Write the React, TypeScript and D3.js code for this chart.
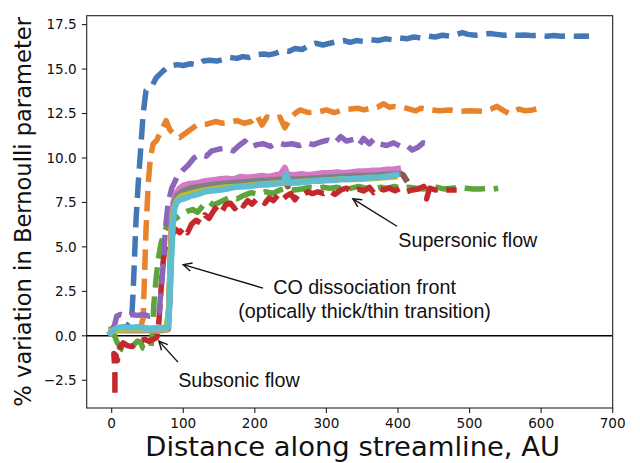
import React from "react";
import * as d3 from "d3";

type P = [number, number];

// ---- data (x: distance along streamline in AU, y: % variation in Bernoulli parameter)
const blueSeries: P[] = [[0,0.2],[5,0.35],[12,0.45],[20,0.5],[25,0.7],[28,1.0],[30,2.5],[32,4.5],[34,6.5],[37,8.5],[40,10.2],[44,12.5],[48,13.8],[53,14.0],[57,14.1],[62,14.5],[67,14.7],[72,14.9],[78,15.1],[85,15.2],[92,15.25],[100,15.2],[110,15.3],[120,15.25],[128,15.45],[137,15.5],[147,15.45],[157,15.55],[165,15.65],[175,15.6],[183,15.7],[192,15.65],[203,15.8],[212,15.85],[220,15.8],[230,15.9],[240,16.05],[248,16.0],[256,16.15],[266,16.1],[277,16.35],[285,16.45],[295,16.35],[305,16.45],[315,16.55],[325,16.6],[333,16.5],[342,16.6],[352,16.55],[362,16.65],[372,16.6],[382,16.7],[392,16.65],[402,16.75],[412,16.7],[422,16.8],[432,16.75],[442,16.85],[452,16.8],[462,16.9],[472,16.85],[482,16.95],[490,17.05],[498,16.95],[508,16.9],[518,16.95],[528,17.0],[538,16.95],[548,16.9],[558,16.95],[568,16.9],[578,16.92],[588,16.88],[598,16.9],[608,16.85],[618,16.88],[628,16.85],[638,16.87],[648,16.85],[658,16.86],[667,16.85]];

const orangeSeries: P[] = [[0,0.3],[15,0.35],[30,0.35],[40,0.4],[44,1.0],[46,3.5],[48,6.0],[51,8.5],[54,10.0],[58,10.8],[63,11.0],[70,11.6],[76,12.1],[81,11.6],[88,11.3],[95,11.15],[105,11.45],[119,11.85],[133,11.9],[145,12.05],[155,11.95],[165,12.0],[175,12.1],[185,11.95],[195,12.05],[203,12.4],[210,11.85],[217,12.3],[226,12.2],[235,12.3],[242,11.7],[249,12.2],[256,12.5],[263,12.7],[275,12.55],[290,12.6],[300,12.7],[311,12.55],[322,12.7],[334,12.75],[344,12.8],[352,12.7],[362,12.8],[371,12.85],[380,13.05],[388,12.85],[396,12.9],[407,12.85],[416,12.75],[425,12.65],[432,12.8],[440,12.75],[447,12.7],[458,12.65],[472,12.7],[488,12.62],[500,12.65],[519,12.62],[530,12.75],[538,12.9],[546,12.7],[555,12.5],[569,12.75],[578,12.65],[588,12.7],[598,12.8]];

const greenSeries: P[] = [[0,0.1],[4,0.0],[8,-0.4],[14,-0.75],[20,-0.85],[26,-0.75],[30,-0.55],[36,-0.3],[40,-0.35],[44,-0.7],[50,-0.8],[55,-0.6],[57,0.3],[59,1.8],[62,3.2],[65,4.3],[69,5.2],[74,5.9],[79,6.3],[84,6.5],[90,6.6],[97,6.85],[105,7.0],[113,7.1],[120,6.95],[128,7.35],[136,7.55],[142,7.35],[150,7.5],[158,7.65],[166,7.8],[175,7.7],[185,7.9],[195,8.05],[205,7.95],[215,8.1],[225,8.0],[235,8.2],[245,8.3],[255,8.2],[265,8.25],[275,8.35],[285,8.3],[295,8.35],[305,8.3],[315,8.35],[325,8.25],[335,8.3],[345,8.4],[355,8.3],[365,8.25],[375,8.35],[385,8.3],[395,8.4],[405,8.3],[415,8.35],[425,8.3],[435,8.25],[445,8.3],[455,8.35],[465,8.25],[475,8.3],[485,8.35],[495,8.3],[505,8.25],[515,8.25],[525,8.3],[533,8.25],[540,8.3]];

const redSeries: P[] = [[4.5,-3.2],[4.5,-2.6],[4.5,-2.1],[4,-1.6],[3,-1.0],[6,-1.1],[8,-1.4],[9,-1.0],[12,-0.6],[16,-0.4],[22,-0.55],[28,-0.6],[34,-0.45],[40,-0.3],[46,-0.2],[52,-0.3],[58,-0.2],[63,-0.1],[66,0.8],[68,2.0],[70,3.2],[72,4.2],[75,5.0],[79,5.3],[84,5.6],[89,6.0],[95,5.8],[101,6.1],[106,5.8],[112,6.3],[118,6.5],[124,6.35],[130,6.8],[136,6.6],[142,7.0],[148,7.3],[154,7.0],[160,7.4],[166,7.45],[172,7.15],[178,7.5],[184,7.3],[190,7.6],[196,7.4],[202,7.65],[208,7.7],[214,7.45],[220,7.75],[226,7.6],[232,7.9],[238,7.65],[244,7.85],[250,8.0],[256,7.65],[262,8.0],[268,7.95],[274,8.1],[280,8.0],[288,8.1],[296,8.0],[304,8.15],[312,7.95],[320,8.2],[328,8.3],[336,8.1],[344,8.25],[352,8.15],[360,8.35],[366,8.05],[372,8.3],[380,8.2],[388,8.3],[396,8.15],[404,8.3],[412,8.1],[420,8.2],[428,8.25],[436,8.4],[440,7.7],[444,8.3],[452,8.2],[460,8.25],[470,8.2],[482,8.2]];

const purpleSeries: P[] = [[0,0.3],[4,0.6],[7,1.1],[12,1.2],[20,1.1],[28,1.2],[36,1.15],[44,1.2],[52,1.1],[60,1.15],[66,1.3],[69,2.5],[72,4.0],[75,6.0],[79,7.5],[84,8.3],[91,8.9],[99,9.3],[107,9.6],[115,10.0],[124,10.2],[132,10.1],[140,10.4],[150,10.5],[160,10.55],[170,10.4],[178,10.7],[186,10.95],[194,10.6],[203,10.75],[212,10.8],[222,10.65],[232,10.85],[242,10.75],[252,10.8],[262,10.7],[272,10.85],[282,10.75],[292,10.9],[302,11.0],[312,10.85],[320,11.2],[328,10.95],[338,11.05],[346,10.75],[352,11.1],[360,10.8],[366,11.05],[374,10.8],[384,10.7],[394,10.85],[404,10.65],[412,10.7],[420,10.45],[428,10.6],[435,10.85],[441,10.8]];

const brownSeries: P[] = [[0,0.35],[15,0.4],[30,0.4],[50,0.35],[70,0.4],[78,0.4],[80,1.5],[82,4.0],[84,6.3],[87,7.4],[91,7.9],[96,8.1],[105,8.25],[120,8.4],[140,8.55],[160,8.6],[180,8.7],[200,8.75],[220,8.75],[240,8.85],[246,8.4],[250,8.85],[270,8.9],[290,8.95],[310,8.95],[330,9.0],[350,9.05],[370,9.05],[390,9.1],[402,9.15],[407,9.05],[411,8.8]];

const pinkSeries: P[] = [[0,0.25],[10,0.3],[30,0.3],[50,0.3],[70,0.3],[78,0.35],[80,1.5],[82,4.0],[84,6.5],[86,7.5],[90,8.0],[95,8.3],[100,8.45],[110,8.55],[120,8.6],[130,8.7],[140,8.75],[150,8.8],[160,8.85],[170,8.8],[180,8.95],[190,8.9],[200,8.95],[210,9.0],[220,8.95],[230,9.05],[236,9.1],[242,9.45],[246,9.05],[255,9.05],[265,9.1],[275,9.05],[285,9.1],[295,9.15],[305,9.15],[315,9.2],[325,9.15],[335,9.2],[345,9.25],[355,9.25],[365,9.3],[375,9.3],[385,9.35],[393,9.35],[400,9.4]];

const graySeries: P[] = [[0,0.3],[15,0.35],[35,0.35],[55,0.35],[72,0.35],[79,0.4],[81,2.0],[83,4.5],[85,6.5],[88,7.5],[92,7.9],[98,8.1],[110,8.3],[125,8.4],[140,8.5],[155,8.55],[170,8.6],[185,8.65],[200,8.7],[220,8.75],[240,8.8],[260,8.8],[280,8.85],[300,8.9],[320,8.95],[340,9.0],[360,9.0],[380,9.05],[400,9.1]];

const oliveSeries: P[] = [[0,0.3],[20,0.35],[40,0.35],[60,0.35],[76,0.35],[80,1.5],[82,4.0],[84,6.0],[87,7.2],[91,7.6],[97,7.85],[110,8.0],[125,8.15],[140,8.25],[160,8.35],[180,8.4],[200,8.5],[220,8.55],[240,8.6],[260,8.65],[280,8.7],[300,8.75],[320,8.8],[340,8.8],[360,8.85],[380,8.9],[395,8.95]];

const cyanSeries: P[] = [[-2,0.15],[3,0.35],[8,0.45],[15,0.5],[25,0.45],[35,0.5],[45,0.45],[55,0.4],[65,0.45],[75,0.45],[79,0.5],[80,1.2],[82,3.0],[84,5.0],[86,6.5],[88,7.2],[91,7.5],[95,7.65],[100,7.7],[110,7.85],[120,7.95],[130,8.1],[140,8.15],[150,8.2],[160,8.25],[170,8.35],[180,8.4],[190,8.4],[200,8.45],[210,8.5],[220,8.5],[230,8.55],[240,8.6],[244,9.1],[248,8.6],[260,8.6],[270,8.65],[280,8.7],[290,8.7],[300,8.75],[310,8.75],[320,8.8],[330,8.8],[340,8.85],[350,8.85],[360,8.9],[370,8.9],[380,8.95],[390,9.0],[398,9.05]];

const seriesNames = ["blue", "orange", "green", "red", "purple", "brown", "pink", "gray", "olive", "cyan"];
const seriesData: P[][] = [blueSeries, orangeSeries, greenSeries, redSeries, purpleSeries, brownSeries, pinkSeries, graySeries, oliveSeries, cyanSeries];
const seriesColors = ["#4377b6", "#e8832b", "#5ea43d", "#c3292c", "#8b66bb", "#8a5a4f", "#d27ac6", "#808080", "#bcbd2e", "#5fbdd0"];
const seriesDashed = [true, true, true, true, true, false, false, false, false, false];

const xTicks = [0, 100, 200, 300, 400, 500, 600, 700];
const yTicks = [-2.5, 0, 2.5, 5, 7.5, 10, 12.5, 15, 17.5];

const xLabel = "Distance along streamline, AU";
const yLabel = "% variation in Bernoulli parameter";

// annotations: text lines, text position (data), arrow tail (data), arrow head (data)
const annotationTexts = [["Supersonic flow"], ["CO dissociation front", "(optically thick/thin transition)"], ["Subsonic flow"]];
const annotationTextX: number[] = [400.5, 353.3, 92.9];
const annotationTextY: number[] = [5.0, 2.36, -2.90];
const annotationTail: P[] = [[398.6, 6.16], [211.4, 2.68], [92.6, -1.48]];
const annotationHead: P[] = [[337, 7.7], [100, 4.0], [66, -0.3]];
const annotationAnchor = ["start", "middle", "start"];

const W = 640, H = 463;
const left = 86.7, right = 612.7, top = 15.7, bottom = 408;

export default function App() {
  const x = d3.scaleLinear().domain([-34.9, 700]).range([left, right]);
  const y = d3.scaleLinear().domain([-4.06, 18.0]).range([bottom, top]);
  const line = d3.line<P>().x(d => x(d[0])).y(d => y(d[1]));
  const tickFont = "'DejaVu Sans', sans-serif";
  const annFont = "'Liberation Sans', Arial, Helvetica, sans-serif";

  const arrowHead = (tail: P, head: P) => {
    const hx = x(head[0]), hy = y(head[1]);
    const tx = x(tail[0]), ty = y(tail[1]);
    const ang = Math.atan2(hy - ty, hx - tx);
    const len = 8.5, half = 4.2;
    const bx = hx - len * Math.cos(ang), by = hy - len * Math.sin(ang);
    const px = -Math.sin(ang) * half, py = Math.cos(ang) * half;
    return `M${bx + px},${by + py}L${hx},${hy}L${bx - px},${by - py}`;
  };

  return (
    <svg width={W} height={H} style={{ position: "absolute", left: 0, top: 0, background: "#fff" }}>
      <defs>
        <clipPath id="plotclip">
          <rect x={left} y={top} width={right - left} height={bottom - top} />
        </clipPath>
      </defs>
      <rect x={0} y={0} width={W} height={H} fill="#fff" />
      <g clipPath="url(#plotclip)">
        <line x1={left} x2={right} y1={y(0)} y2={y(0)} stroke="#000" strokeWidth={1.5} />
        {seriesData.map((s, i) => (
          <path
            key={seriesNames[i]}
            d={line(s) || ""}
            fill="none"
            stroke={seriesColors[i]}
            strokeWidth={seriesDashed[i] ? 5.5 : 6}
            strokeDasharray={seriesDashed[i] ? "20.5 8.8" : undefined}
            strokeLinejoin="round"
            strokeLinecap={seriesDashed[i] ? "butt" : "square"}
          />
        ))}
      </g>
      <rect x={left} y={top} width={right - left} height={bottom - top} fill="none" stroke="#222" strokeWidth={1.1} />
      {xTicks.map(t => (
        <g key={"x" + t}>
          <line x1={x(t)} x2={x(t)} y1={bottom} y2={bottom + 4.9} stroke="#222" strokeWidth={1.1} />
          <text x={x(t)} y={bottom + 20} textAnchor="middle" fontFamily={tickFont} fontSize={13.6} fill="#111">{String(t)}</text>
        </g>
      ))}
      {yTicks.map(t => (
        <g key={"y" + t}>
          <line x1={left - 4.9} x2={left} y1={y(t)} y2={y(t)} stroke="#222" strokeWidth={1.1} />
          <text x={left - 10} y={y(t)} dy="0.36em" textAnchor="end" fontFamily={tickFont} fontSize={13.6} fill="#111">
            {(t < 0 ? "\u2212" : "") + Math.abs(t).toFixed(1)}
          </text>
        </g>
      ))}
      <text x={(left + right) / 2 + 3} y={456} textAnchor="middle" fontFamily={tickFont} fontSize={27.4} fill="#111">{xLabel}</text>
      <text transform={`translate(31,${(top + bottom) / 2}) rotate(-90)`} textAnchor="middle" fontFamily={tickFont} fontSize={22.6} fill="#111">{yLabel}</text>
      {annotationTexts.map((lines, i) => (
        <g key={"ann" + i}>
          <line x1={x(annotationTail[i][0])} y1={y(annotationTail[i][1])} x2={x(annotationHead[i][0])} y2={y(annotationHead[i][1])} stroke="#111" strokeWidth={1.4} />
          <path d={arrowHead(annotationTail[i], annotationHead[i])} fill="none" stroke="#111" strokeWidth={1.4} />
          {lines.map((ln, j) => (
            <text key={j} x={x(annotationTextX[i])} y={y(annotationTextY[i]) + j * 24} textAnchor={annotationAnchor[i]} fontFamily={annFont} fontSize={19.7} fill="#111">{ln}</text>
          ))}
        </g>
      ))}
    </svg>
  );
}
